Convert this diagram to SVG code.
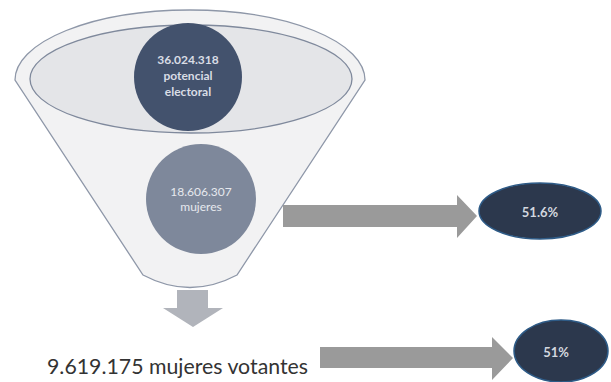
<svg xmlns="http://www.w3.org/2000/svg" width="611" height="382" viewBox="0 0 611 382">
<style>
.lbl{font-family:Lato,"Open Sans","Liberation Sans",sans-serif;text-anchor:middle}
.arrow{fill:#9a9a9a}
.pct{fill:#2c384d;stroke:#2e5b87;stroke-width:1.5}
</style>
<rect width="611" height="382" fill="#ffffff"/>
<g id="funnel">
<path d="M15,80 A175,70 0 0 1 365,80 L237,275 Q190,300 143,275 Z" fill="#f2f2f3" stroke="#8e97a8" stroke-width="1.3"/>
<ellipse cx="191" cy="79" rx="161" ry="54" fill="#e4e5e8" stroke="#7f899c" stroke-width="1.3"/>
</g>
<g id="node-potencial">
<circle cx="188" cy="77" r="54" fill="#43526d"/>
<text class="lbl" x="188" y="64" font-size="12" font-weight="bold" fill="#d9dde5">36.024.318</text>
<text class="lbl" x="188" y="80" font-size="12" font-weight="bold" fill="#d9dde5">potencial</text>
<text class="lbl" x="188" y="96" font-size="12" font-weight="bold" fill="#d9dde5">electoral</text>
</g>
<g id="node-mujeres">
<circle cx="201" cy="199" r="55" fill="#7e889b"/>
<text class="lbl" x="201" y="196" font-size="12" fill="#e6e8ee">18.606.307</text>
<text class="lbl" x="201" y="211" font-size="12" fill="#e6e8ee">mujeres</text>
</g>
<g id="node-votantes">
<text x="47" y="374" font-family="Lato,'Open Sans','Liberation Sans',sans-serif" font-size="21" fill="#333333" textLength="261" lengthAdjust="spacingAndGlyphs">9.619.175 mujeres votantes</text>
</g>
<g id="node-516">
<ellipse class="pct" cx="540" cy="211" rx="61" ry="28"/>
<text class="lbl" x="540" y="217" font-size="13" font-weight="bold" fill="#d3d7df">51.6%</text>
</g>
<g id="node-51">
<ellipse class="pct" cx="561" cy="351" rx="47" ry="31"/>
<text class="lbl" x="556" y="357" font-size="13" font-weight="bold" fill="#d3d7df">51%</text>
</g>
<g id="connectors">
<path d="M177,290 L208,290 L208,308 L223,308 L193,327 L163,308 L177,308 Z" fill="#b1b4bb"/>
<path class="arrow" d="M283,205 L457,205 L457,195 L477,216 L457,238 L457,227 L283,227 Z"/>
<path class="arrow" d="M320,347 L492,347 L492,337 L513,358 L492,380 L492,368 L320,368 Z"/>
</g>
</svg>
